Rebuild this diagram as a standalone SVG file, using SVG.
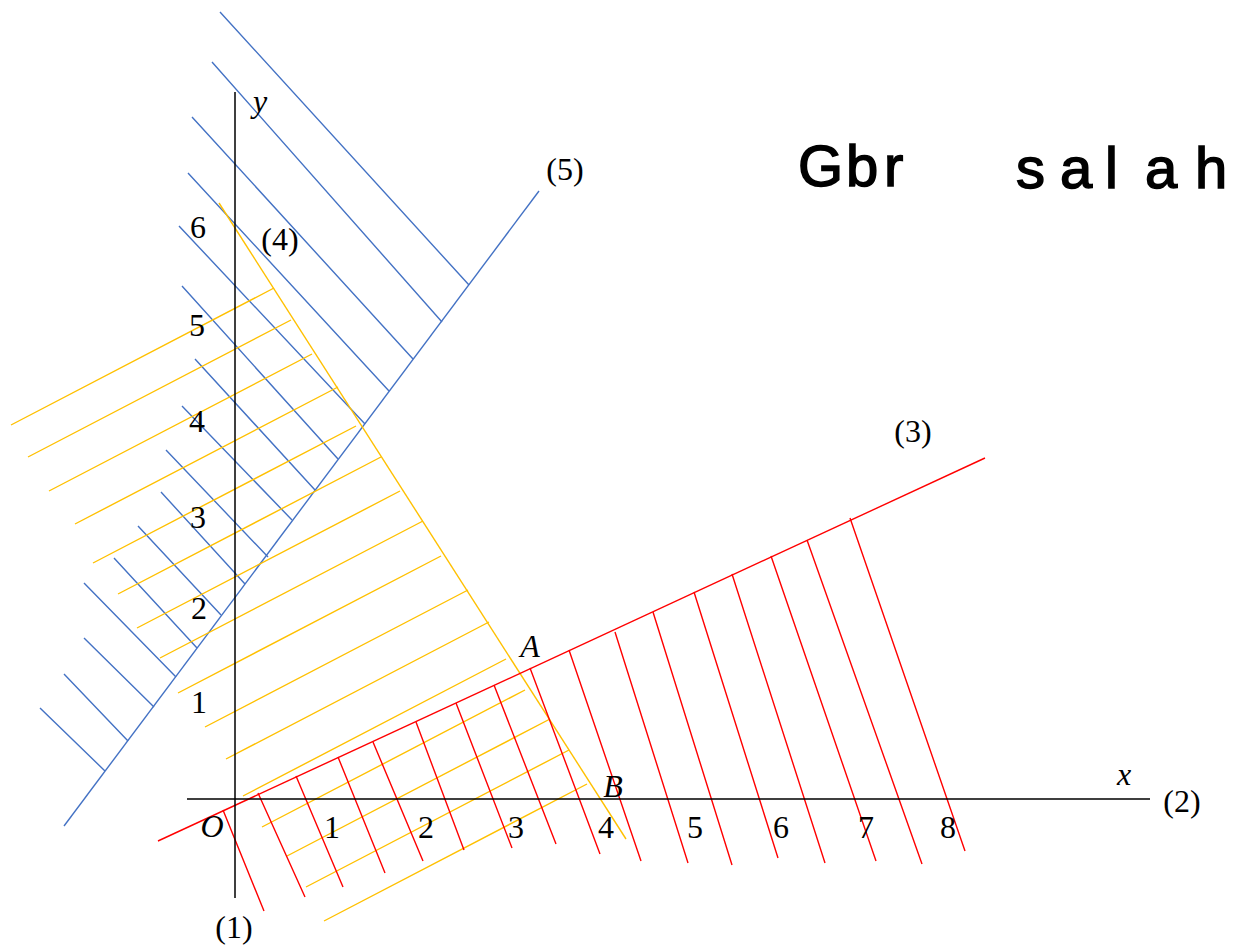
<svg xmlns="http://www.w3.org/2000/svg" width="1248" height="948" viewBox="0 0 1248 948">
<style>
.ax{stroke:#000;stroke-width:1.5;fill:none}
.b{stroke:#4472C4;stroke-width:1.4;fill:none}
.o{stroke:#FFC000;stroke-width:1.4;fill:none}
.r{stroke:#FF0000;stroke-width:1.4;fill:none}
.t{font-family:"Liberation Serif","DejaVu Serif",serif;font-size:32px;fill:#000;text-anchor:middle}
.i{font-style:italic}
.hw{font-family:"Liberation Sans","DejaVu Sans",sans-serif;font-size:58px;fill:#000;stroke:#000;stroke-width:1.5}
</style>
<rect width="1248" height="948" fill="#fff"/>
<g id="blue">
<path class="b" d="M64,826L539,191"/>
<path class="b" d="M220,12L469,285M212,62L442,322M192,117L413,359M188,173L389,391M179,226L365,424M182,286L338,459M195,359L315,490M182,406L292,520M166,450L268,557M161,492L245,584M138,526L221,615M114,558L197,648M84,583L176,677M84,638L154,707M64,674L128,741M40,708L105,771"/>
</g>
<g id="orange">
<path class="o" d="M219,203L626,839"/>
<path class="o" d="M11,425l263,-137M28,457l263,-137M49,491l263,-137M75,524l263,-137M93,563l263,-137M118,594l263,-137M137,628l263,-137M160,658l263,-137M178,693l263,-137M205,727l263,-137M226,759l263,-137M243,796l263,-137M262,827l263,-137M287,856l263,-137M306,887l263,-137M324,921l263,-137"/>
</g>
<g id="red">
<path class="r" d="M158,841L985,458"/>
<path class="r" d="M223,810L264,911M258,793L305,897M296,776L343,887M338,757L385,873M373,742L423,861M416,722L464,850M456,703L512,848M494,685L556,844M530,668L600,854M569,650L641,861M615,632L688,863M653,612L732,865M694,592L778,858M732,574L825,863M771,556L876,861M807,540L922,864M850,518L965,851"/>
</g>
<g id="axes">
<path class="ax" d="M235,92V898M187,799H1150"/>
</g>
<g id="labels">
<text class="t i" x="260" y="112">y</text>
<text class="t i" x="1124" y="785">x</text>
<text class="t i" x="212" y="837">O</text>
<text class="t i" x="530" y="657">A</text>
<text class="t i" x="613" y="797">B</text>
<text class="t" x="198" y="238">6</text>
<text class="t" x="197" y="336">5</text>
<text class="t" x="197" y="432">4</text>
<text class="t" x="198" y="528">3</text>
<text class="t" x="199" y="619">2</text>
<text class="t" x="199" y="713">1</text>
<text class="t" x="332" y="838">1</text>
<text class="t" x="426" y="838">2</text>
<text class="t" x="516" y="838">3</text>
<text class="t" x="606" y="838">4</text>
<text class="t" x="695" y="838">5</text>
<text class="t" x="781" y="838">6</text>
<text class="t" x="866" y="838">7</text>
<text class="t" x="948" y="838">8</text>
<text class="t" x="234" y="938">(1)</text>
<text class="t" x="1182" y="812">(2)</text>
<text class="t" x="913" y="442">(3)</text>
<text class="t" x="280" y="250">(4)</text>
<text class="t" x="565" y="180">(5)</text>
</g>
<g id="note">
<text class="hw" x="798 846 884" y="186">Gbr</text>
<text class="hw" x="1016 1060 1105 1145 1195" y="188">salah</text>
</g>
</svg>
